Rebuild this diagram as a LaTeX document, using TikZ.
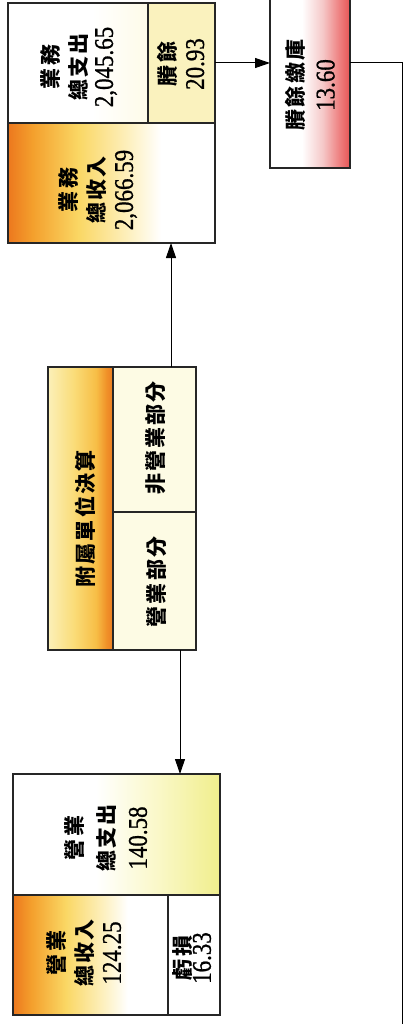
\documentclass[tikz,border=0pt]{standalone}
\usepackage{fontspec}
\setmainfont{Liberation Serif}
\newfontfamily\cjkf[LetterSpace=10]{Noto Sans CJK TC}
\newfontfamily\numf[FakeStretch=0.85,FakeBold=0.8]{Liberation Serif}
\usetikzlibrary{arrows.meta}
\definecolor{orA}{RGB}{236,120,30}
\definecolor{orB}{RGB}{244,160,45}
\definecolor{ylA}{RGB}{250,215,100}
\definecolor{plA}{RGB}{253,240,190}
\definecolor{plB}{RGB}{251,240,185}
\definecolor{ylB}{RGB}{250,220,120}
\definecolor{orC}{RGB}{247,190,70}
\definecolor{orD}{RGB}{240,145,40}
\definecolor{orE}{RGB}{236,125,35}
\definecolor{pkA}{RGB}{245,200,200}
\definecolor{pkB}{RGB}{238,130,130}
\definecolor{rdA}{RGB}{230,85,85}
\definecolor{gyA}{RGB}{250,248,200}
\definecolor{gyB}{RGB}{240,238,140}
\definecolor{wpA}{RGB}{254,251,232}
\definecolor{surA}{RGB}{250,242,190}
\definecolor{partA}{RGB}{253,251,228}
\pgfdeclarehorizontalshading{incomeshade}{100bp}{color(0bp)=(orA); color(25bp)=(orA); color(31bp)=(orB); color(42bp)=(ylA); color(54bp)=(plA); color(62bp)=(white); color(100bp)=(white)}
\pgfdeclarehorizontalshading{fushade}{100bp}{color(0bp)=(plB); color(25bp)=(plB); color(45bp)=(ylB); color(62bp)=(orC); color(70bp)=(orD); color(75bp)=(orE); color(100bp)=(orE)}
\pgfdeclarehorizontalshading{payshade}{100bp}{color(0bp)=(white); color(45bp)=(white); color(58bp)=(pkA); color(68bp)=(pkB); color(75bp)=(rdA); color(100bp)=(rdA)}
\pgfdeclarehorizontalshading{expshade}{100bp}{color(0bp)=(white); color(45bp)=(white); color(60bp)=(gyA); color(75bp)=(gyB); color(100bp)=(gyB)}
\pgfdeclarehorizontalshading{paleshade}{100bp}{color(0bp)=(white); color(55bp)=(white); color(75bp)=(wpA); color(100bp)=(wpA)}
\newcommand\zh[1]{{\cjkf\bfseries #1}}
\newcommand\nb[1]{{\numf\fontsize{27}{28}\selectfont #1}}
\begin{document}
\begin{tikzpicture}[x=1pt,y=-1pt,
  cell/.style={draw=black!85, line width=1.2pt, inner sep=0pt, outer sep=0pt, anchor=north west},
  frame/.style={draw=black!85, line width=1.3pt, inner sep=0pt, outer sep=0pt, anchor=north west},
  txt/.style={rotate=90, align=center, inner sep=0pt, font=\fontsize{21}{28}\selectfont},
  arr/.style={line width=1pt, -{Triangle[length=15pt,width=10pt]}},
  ln/.style={line width=1pt}]
\useasboundingbox (0,0) rectangle (405,1024);
\clip (0,0) rectangle (405,1024);
% top group
\node[cell, shading=paleshade, minimum width=140pt, minimum height=120pt] (ywout) at (8,3) {};
\node[cell, fill=surA, minimum width=67pt, minimum height=120pt] (ywsur) at (148,3) {};
\node[cell, shading=incomeshade, minimum width=207pt, minimum height=120pt] (ywin) at (8,123) {};
\node[frame, minimum width=207pt, minimum height=240pt] (yw) at (8,3) {};
\node[txt] (t1) at (79,67) {\zh{業務}\\\zh{總支出}\\[-2pt]\nb{2,045.65}};
\node[txt] (t2) at (181,64) {\zh{賸餘}\\\nb{20.93}};
\node[txt] (t3) at (98,190) {\zh{業務}\\\zh{總收入}\\\nb{2,066.59}};
% pay
\node[cell, shading=payshade, minimum width=80pt, minimum height=180pt] (pay) at (270,-12) {};
\node[txt] (t4) at (310,85) {\zh{賸餘繳庫}\\[3pt]\nb{13.60}};
% middle group
\node[cell, shading=fushade, minimum width=65pt, minimum height=283pt] (fuL) at (48,367) {};
\node[cell, fill=partA, minimum width=83pt, minimum height=145pt] (fuN) at (113,367) {};
\node[cell, fill=partA, minimum width=83pt, minimum height=138pt] (fuY) at (113,512) {};
\node[frame, minimum width=148pt, minimum height=283pt] (fu) at (48,367) {};
\node[txt] (t5) at (85,519) {\zh{附屬單位決算}};
\node[txt] (t6) at (156,438) {\zh{非營業部分}};
\node[txt] (t7) at (156,582) {\zh{營業部分}};
% bottom group
\node[cell, shading=expshade, minimum width=207pt, minimum height=121pt] (yyout) at (13,774) {};
\node[cell, shading=incomeshade, minimum width=155pt, minimum height=120pt] (yyin) at (13,895) {};
\node[cell, fill=white, minimum width=52pt, minimum height=120pt] (yyloss) at (168,895) {};
\node[frame, minimum width=207pt, minimum height=241pt] (yy) at (13,774) {};
\node[txt] (t8) at (106,838) {\zh{營業}\\[4pt]\zh{總支出}\\[4pt]\nb{140.58}};
\node[txt] (t9) at (84,953) {\zh{營業}\\\zh{總收入}\\\nb{124.25}};
\node[txt] (t10) at (192,958) {\zh{虧損}\\[-8pt]\nb{16.33}};
% connectors
\draw[arr] ([xshift=49pt]fu.north) -- ([xshift=49pt]fu.north |- ywin.south);
\draw[arr] ([xshift=58pt]fu.south) -- ([xshift=58pt]fu.south |- yy.north);
\draw[arr] (ywsur.east) -- (ywsur.east -| pay.west);
\coordinate (c1) at (402,63);
\coordinate (c2) at (402,1040);
\draw[ln] (pay.east |- ywsur.east) -- (c1) -- (c2);
\end{tikzpicture}
\end{document}
